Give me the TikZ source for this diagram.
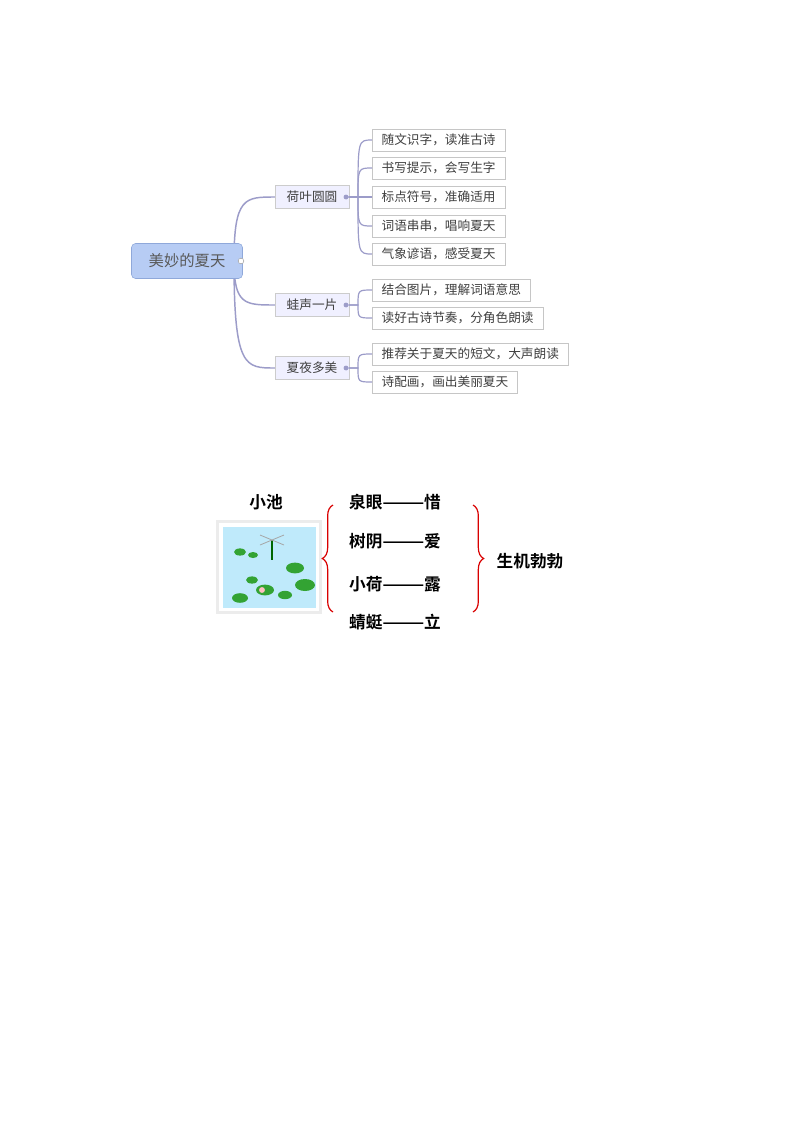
\documentclass[tikz,border=0pt]{standalone}
\usepackage{fontspec}
\setmainfont{Noto Sans CJK SC}
\newfontfamily\cjkb{Noto Sans CJK SC Bold}
\usetikzlibrary{decorations.pathreplacing}
\definecolor{rootfill}{HTML}{B7CCF4}
\definecolor{rootline}{HTML}{8FA8DA}
\begin{document}
\begin{tikzpicture}[x=0.75pt,y=-0.75pt,
 rootbox/.style={draw=rootline,fill=rootfill,rounded corners=3pt,minimum width=111*0.75pt,minimum height=35*0.75pt,font=\fontsize{11.5}{11.5}\selectfont,text=black!65,inner sep=0pt},
 midbox/.style={draw=gray!40,fill=blue!6,minimum width=74*0.75pt,minimum height=23*0.75pt,font=\fontsize{9.5}{9.5}\selectfont,text=black!75,inner sep=0pt},
 leafbox/.style={draw=gray!45,fill=white,anchor=west,minimum height=22*0.75pt,inner xsep=7pt,inner ysep=0pt,font=\fontsize{9.5}{9.5}\selectfont,text=black!75},
 link/.style={draw=blue!30!gray!60,line width=1.1pt},
 dot/.style={circle,fill=blue!30!gray!60,inner sep=1.3pt},
 poem/.style={font=\cjkb\fontsize{12.5}{12.5}\selectfont},
 brace/.style={draw=red!85!black,line width=0.9pt}]
\useasboundingbox[fill=white] (0,0) rectangle (800,1132);
% mind map
\coordinate (s) at (234,261);
\foreach \m/\y in {m1/197,m2/305,m3/368} \draw[link] (s) .. controls (234,\y) and (245,\y) .. (275,\y);
\node[rootbox] (root) at (187,261) {美妙的夏天};
\node[midbox] (m1) at (312,197) {荷叶圆圆};
\node[midbox] (m2) at (312,305) {蛙声一片};
\node[midbox] (m3) at (312,368) {夏夜多美};
\node[draw=gray!70,circle,inner sep=1.5pt,fill=white] (rd) at (241,261) {};
\foreach \i/\t/\y in {1/随文识字，读准古诗/140,2/书写提示，会写生字/168,3/标点符号，准确适用/197,4/词语串串，唱响夏天/226,5/气象谚语，感受夏天/254}
 \node[leafbox] (a\i) at (372,\y) {\t};
\foreach \i/\t/\y in {1/结合图片，理解词语意思/290,2/读好古诗节奏，分角色朗读/318}
 \node[leafbox] (b\i) at (372,\y) {\t};
\foreach \i/\t/\y in {1/推荐关于夏天的短文，大声朗读/354,2/诗配画，画出美丽夏天/382}
 \node[leafbox] (c\i) at (372,\y) {\t};
\node[dot] (d1) at (346,197) {};
\node[dot] (d2) at (346,305) {};
\node[dot] (d3) at (346,368) {};
\foreach \n/\y in {a1/140,a2/168,a3/197,a4/226,a5/254} \draw[link,line width=0.9pt] (d1) -- (358,197) .. controls (358,\y) .. (\n.west);
\foreach \n/\y in {b1/290,b2/318} \draw[link,line width=0.9pt] (d2) -- (358,305) .. controls (358,\y) .. (\n.west);
\foreach \n/\y in {c1/354,c2/382} \draw[link,line width=0.9pt] (d3) -- (358,368) .. controls (358,\y) .. (\n.west);
% bottom
\node[poem] (pond) at (266,502) {小池};
\node[draw=gray!15,line width=2pt,fill=white,minimum width=103*0.75pt,minimum height=91*0.75pt] (pic) at (269,567) {};
\fill[cyan!25] (223,527) rectangle (316,608);
\foreach \x/\y/\r in {240/552/6,253/555/5,295/568/9,305/585/10,265/590/9,240/598/8,285/595/7,252/580/6}
 \fill[green!55!black!80] (\x,\y) ellipse [x radius=\r*0.75pt, y radius=\r*0.45pt];
\draw[green!40!black,line width=1pt] (272,540) -- (272,560);
\draw[gray!70,line width=0.6pt] (260,535) -- (284,545) (284,535) -- (260,545);
\fill[pink] (262,590) circle [radius=2.2pt];
\node[poem] (p1) at (395,502) {泉眼———惜};
\node[poem] (p2) at (395,541) {树阴———爱};
\node[poem] (p3) at (395,584) {小荷———露};
\node[poem] (p4) at (395,622) {蜻蜓———立};
\node[poem] (res) at (530,561) {生机勃勃};
\coordinate (lb1) at (333,505); \coordinate (lb2) at (333,612);
\coordinate (rb1) at (473,505); \coordinate (rb2) at (473,612);
\draw[brace,decorate,decoration={brace,amplitude=8pt,mirror}] (lb1) -- (lb2);
\draw[brace,decorate,decoration={brace,amplitude=8pt}] (rb1) -- (rb2);
\end{tikzpicture}
\end{document}
